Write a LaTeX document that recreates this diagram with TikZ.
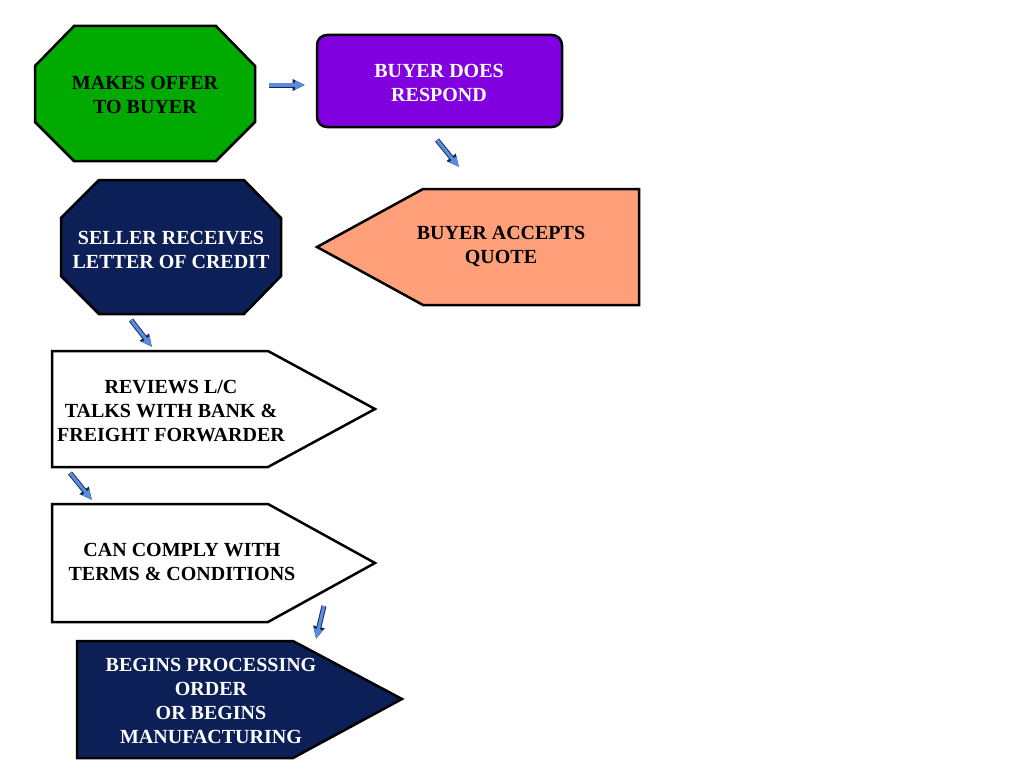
\documentclass[tikz,border=0pt]{standalone}
\usepackage{fontspec}
\setmainfont{Liberation Serif}
\usepackage{xcolor}
\usetikzlibrary{arrows.meta}

\definecolor{offergreen}{RGB}{0,170,0}
\definecolor{buyerpurple}{RGB}{128,0,224}
\definecolor{quotesalmon}{RGB}{255,160,122}
\definecolor{sellernavy}{RGB}{12,31,87}
\definecolor{flowblue}{RGB}{90,140,220}
\definecolor{flowedge}{RGB}{20,35,90}

\begin{document}
\begin{tikzpicture}[x=1pt,y=-1pt,
    box/.style={draw=black,line width=2.5pt,line join=miter},
    label/.style={align=center,font=\fontsize{20}{24}\selectfont\bfseries,inner sep=0pt},
    flow/.style={draw=flowblue,line width=3.2pt,-{Triangle[length=10pt,width=8.5pt]},
      preaction={draw=flowedge,line width=5pt,-{Triangle[length=12.5pt,width=11pt]}}}]
              \useasboundingbox (0,0) rectangle (1024,768);

              % shapes
              \draw[box,fill=offergreen] (74,26) -- (216,26) -- (255,66) -- (255,122)
                -- (216,161) -- (74,161) -- (35,122) -- (35,66) -- cycle;
              \draw[box,fill=buyerpurple,rounded corners=10pt] (317,35) rectangle (562,127);
              \draw[box,fill=quotesalmon] (317,247) -- (423,189) -- (639,189) -- (639,305)
                -- (423,305) -- cycle;
              \draw[box,fill=sellernavy] (99,180) -- (244,180) -- (281,218) -- (281,276)
                -- (244,314) -- (99,314) -- (61,276) -- (61,218) -- cycle;
              \draw[box,fill=white] (52,351) -- (268,351) -- (375,409) -- (268,467)
                -- (52,467) -- cycle;
              \draw[box,fill=white] (52,504) -- (268,504) -- (375,563) -- (268,622)
                -- (52,622) -- cycle;
              \draw[box,fill=sellernavy] (77,641) -- (293,641) -- (402,699) -- (293,758)
                -- (77,758) -- cycle;

              % texts
              \node[label] (offer)   at (145,95)  {MAKES OFFER\\TO BUYER};
              \node[label,text=white] (respond) at (439,83)  {BUYER DOES\\RESPOND};
              \node[label] (accept)  at (501,246) {BUYER ACCEPTS\\QUOTE};
              \node[label,text=white] (seller)  at (171,250) {SELLER RECEIVES\\LETTER OF CREDIT};
              \node[label] (reviews) at (171,411) {REVIEWS L/C\\TALKS WITH BANK \&\\FREIGHT FORWARDER};
              \node[label] (comply)  at (182,562) {CAN COMPLY WITH\\TERMS \& CONDITIONS};
              \node[label,text=white] (begins)  at (211,701) {BEGINS PROCESSING\\ORDER\\OR BEGINS\\MANUFACTURING};

              % arrow ends
              \coordinate (a1) at (269,85);
              \coordinate (b1) at (305,85);
              \coordinate (a2) at (437,140);
              \coordinate (b2) at (459,167);
              \coordinate (a3) at (131,320);
              \coordinate (b3) at (152,347);
              \coordinate (a4) at (70,473);
              \coordinate (b4) at (92,500);
              \coordinate (a5) at (324,606);
              \coordinate (b5) at (316,639);

              \path[flow] (a1) -- (b1);
              \path[flow] (a2) -- (b2);
              \path[flow] (a3) -- (b3);
              \path[flow] (a4) -- (b4);
              \path[flow] (a5) -- (b5);
          \end{tikzpicture}
\end{document}
